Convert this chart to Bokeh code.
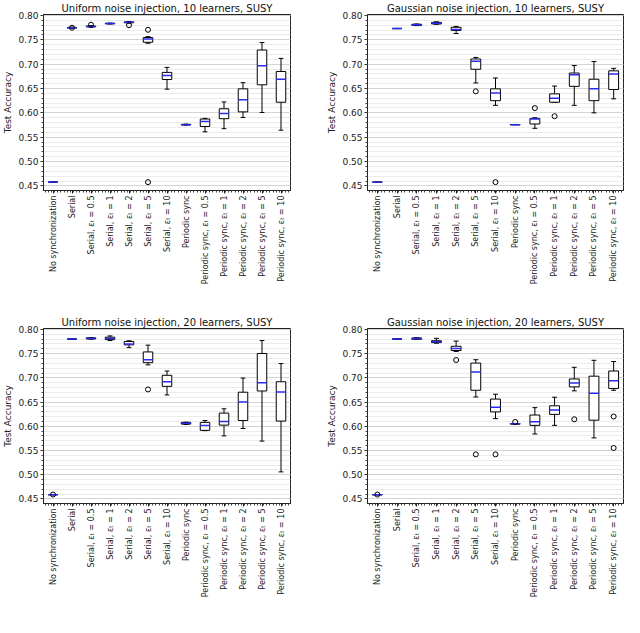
import math
import numpy as np
from bokeh.plotting import figure
from bokeh.models import (ColumnDataSource, FixedTicker, SingleIntervalTicker, Range1d,
                          PrintfTickFormatter)
from bokeh.layouts import column, row
from bokeh.embed import file_html
from bokeh.resources import INLINE

categories = [
    "No synchronization", "Serial", "Serial, εₜ = 0.5", "Serial, εₜ = 1",
    "Serial, εₜ = 2", "Serial, εₜ = 5", "Serial, εₜ = 10", "Periodic sync",
    "Periodic sync, εₜ = 0.5", "Periodic sync, εₜ = 1", "Periodic sync, εₜ = 2",
    "Periodic sync, εₜ = 5", "Periodic sync, εₜ = 10",
]
y_tick_step = 0.05

# ---- Uniform noise, 10 learners ----
u10_q1 = [0.458, 0.7745, 0.7768, 0.7829, 0.7850, 0.7450, 0.6684, 0.5752, 0.5720, 0.5880, 0.6020, 0.6576, 0.6218]
u10_med = [0.458, 0.7750, 0.7775, 0.7834, 0.7860, 0.7515, 0.6767, 0.5758, 0.5822, 0.5988, 0.6269, 0.6965, 0.6691]
u10_q3 = [0.458, 0.7755, 0.7782, 0.7839, 0.7868, 0.7547, 0.6831, 0.5764, 0.5873, 0.6084, 0.6493, 0.7290, 0.6850]
u10_lo = [0.458, 0.7740, 0.7760, 0.7825, 0.7845, 0.7430, 0.6486, 0.5748, 0.5611, 0.5675, 0.5905, 0.6007, 0.5643]
u10_hi = [0.458, 0.7760, 0.7790, 0.7843, 0.7875, 0.7566, 0.6933, 0.5768, 0.5886, 0.6224, 0.6620, 0.7444, 0.7119]
u10_out_idx = [1, 2, 4, 5, 5]
u10_out_val = [0.7748, 0.7810, 0.7800, 0.7706, 0.4577]

# ---- Gaussian noise, 10 learners ----
g10_q1 = [0.4577, 0.7730, 0.7797, 0.7826, 0.7693, 0.6895, 0.6250, 0.5755, 0.5771, 0.6218, 0.6544, 0.6250, 0.6480]
g10_med = [0.4577, 0.7732, 0.7808, 0.7840, 0.7713, 0.7061, 0.6410, 0.5758, 0.5873, 0.6301, 0.6780, 0.6493, 0.6800]
g10_q3 = [0.4577, 0.7734, 0.7820, 0.7858, 0.7757, 0.7106, 0.6493, 0.5761, 0.5886, 0.6390, 0.6818, 0.6691, 0.6863]
g10_lo = [0.4577, 0.7730, 0.7792, 0.7820, 0.7630, 0.6614, 0.6154, 0.5755, 0.5682, 0.6218, 0.6154, 0.6000, 0.6288]
g10_hi = [0.4577, 0.7734, 0.7825, 0.7870, 0.7776, 0.7138, 0.6716, 0.5761, 0.5899, 0.6550, 0.6972, 0.7055, 0.6914]
g10_out_idx = [5, 6, 8, 9]
g10_out_val = [0.6442, 0.4577, 0.6097, 0.5931]

# ---- Uniform noise, 20 learners ----
u20_q1 = [0.4586, 0.7802, 0.7805, 0.7790, 0.7682, 0.7314, 0.6825, 0.6045, 0.5916, 0.6024, 0.6119, 0.6729, 0.6107]
u20_med = [0.4588, 0.7803, 0.7816, 0.7816, 0.7701, 0.7377, 0.6920, 0.6062, 0.6018, 0.6100, 0.6500, 0.6901, 0.6710]
u20_q3 = [0.4590, 0.7804, 0.7828, 0.7841, 0.7752, 0.7536, 0.7053, 0.6080, 0.6081, 0.6272, 0.6704, 0.7504, 0.6920]
u20_lo = [0.4586, 0.7802, 0.7800, 0.7771, 0.7625, 0.7269, 0.6647, 0.6040, 0.5910, 0.5802, 0.5954, 0.5694, 0.5058]
u20_hi = [0.4590, 0.7804, 0.7832, 0.7867, 0.7765, 0.7676, 0.7142, 0.6085, 0.6119, 0.6361, 0.6996, 0.7771, 0.7295]
u20_out_idx = [0, 5]
u20_out_val = [0.4590, 0.6761]

# ---- Gaussian noise, 20 learners ----
g20_q1 = [0.4585, 0.7803, 0.7798, 0.7729, 0.7565, 0.6744, 0.6297, 0.6045, 0.6019, 0.6246, 0.6814, 0.6126, 0.6782]
g20_med = [0.4587, 0.7804, 0.7811, 0.7748, 0.7609, 0.7123, 0.6391, 0.6050, 0.6095, 0.6334, 0.6896, 0.6681, 0.6940]
g20_q3 = [0.4589, 0.7805, 0.7824, 0.7767, 0.7653, 0.7306, 0.6562, 0.6055, 0.6233, 0.6423, 0.6978, 0.7035, 0.7142]
g20_lo = [0.4585, 0.7803, 0.7795, 0.7716, 0.7546, 0.6606, 0.6158, 0.6045, 0.5842, 0.6019, 0.6732, 0.5760, 0.6744]
g20_hi = [0.4589, 0.7805, 0.7830, 0.7817, 0.7760, 0.7375, 0.6662, 0.6055, 0.6385, 0.6600, 0.7218, 0.7363, 0.7338]
g20_out_idx = [0, 4, 5, 6, 7, 10, 12, 12]
g20_out_val = [0.4590, 0.7369, 0.5420, 0.5420, 0.6090, 0.6145, 0.6202, 0.5552]

FONT = "DejaVu Sans"
BOX_W = 0.5
CAP_W = 0.25
Y0, Y1 = 0.4405, 0.802


def panel(title, q1, med, q3, lo, hi, out_idx, out_val, width, height, mb):
    pos = np.arange(1, len(categories) + 1, dtype=float)
    src = ColumnDataSource(dict(
        x=pos, q1=q1, med=med, q3=q3, lo=lo, hi=hi,
        bl=pos - BOX_W / 2, br=pos + BOX_W / 2,
        cl=pos - CAP_W / 2, cr=pos + CAP_W / 2,
    ))
    p = figure(width=width, height=height, output_backend="svg", toolbar_location=None,
               x_range=Range1d(0.5, len(categories) + 0.5), y_range=Range1d(Y0, Y1),
               min_border_left=mb[0], min_border_right=mb[1], min_border_top=mb[2],
               min_border_bottom=mb[3], title=title)
    p.title.text_font = FONT
    p.title.text_font_size = "10px"
    p.title.text_font_style = "normal"
    p.title.text_color = "#111111"
    p.title.align = "center"
    p.title.standoff = 1
    p.title.offset = 0
    p.outline_line_color = "#222222"
    p.outline_line_width = 1
    p.background_fill_color = "white"
    p.border_fill_color = None

    # grid
    p.xgrid.grid_line_color = None
    p.ygrid.grid_line_color = "#d4d4d4"
    p.ygrid.minor_grid_line_color = "#ebebeb"

    yt = SingleIntervalTicker(interval=y_tick_step, num_minor_ticks=5)
    p.yaxis.ticker = yt
    p.ygrid.ticker = yt
    p.yaxis.formatter = PrintfTickFormatter(format="%.2f")
    p.yaxis.axis_label = "Test Accuracy"
    p.yaxis.axis_label_text_font = FONT
    p.yaxis.axis_label_text_font_size = "9px"
    p.yaxis.axis_label_text_font_style = "normal"
    p.yaxis.axis_label_text_color = "#222222"
    p.yaxis.axis_label_standoff = 2
    p.yaxis.major_label_standoff = 2
    p.yaxis.major_label_text_font_size = "9px"

    minor = []
    for c in pos:
        minor += [c + d for d in (-0.375, -0.225, -0.075, 0.075, 0.225, 0.375)]
    p.xaxis.ticker = FixedTicker(ticks=list(pos), minor_ticks=minor)
    p.xaxis.major_label_overrides = {int(c): categories[i] for i, c in enumerate(pos)}
    p.xaxis.major_label_orientation = math.pi / 2
    p.xaxis.major_label_standoff = 2
    p.xaxis.major_label_text_font_size = "8px"

    for ax in (p.xaxis, p.yaxis):
        ax.major_label_text_font = FONT
        ax.major_label_text_color = "#222222"
        ax.axis_line_color = "#222222"
        ax.major_tick_line_color = "#222222"
        ax.minor_tick_line_color = "#444444"
        ax.major_tick_out = 3
        ax.major_tick_in = 0
        ax.minor_tick_out = 2
        ax.minor_tick_in = 0

    # whiskers
    p.segment(x0="x", y0="lo", x1="x", y1="q1", source=src, line_color="black", line_width=1)
    p.segment(x0="x", y0="q3", x1="x", y1="hi", source=src, line_color="black", line_width=1)
    # caps
    p.segment(x0="cl", y0="lo", x1="cr", y1="lo", source=src, line_color="black", line_width=1)
    p.segment(x0="cl", y0="hi", x1="cr", y1="hi", source=src, line_color="black", line_width=1)
    # boxes
    p.vbar(x="x", width=BOX_W, bottom="q1", top="q3", source=src,
           fill_color="white", line_color="black", line_width=1)
    # medians
    p.segment(x0="bl", y0="med", x1="br", y1="med", source=src, line_color="#2a2af0", line_width=1.5)
    # outliers
    osrc = ColumnDataSource(dict(x=[pos[i] for i in out_idx], y=out_val))
    p.scatter(x="x", y="y", source=osrc, marker="circle", size=5,
              fill_color=None, line_color="black", line_width=1)
    return p


TOP_H, BOT_H = 304, 340
p1 = panel("Uniform noise injection, 10 learners, SUSY", u10_q1, u10_med, u10_q3, u10_lo, u10_hi,
           u10_out_idx, u10_out_val, 312, TOP_H, (30, 22, 10, 114))
p2 = panel("Gaussian noise injection, 10 learners, SUSY", g10_q1, g10_med, g10_q3, g10_lo, g10_hi,
           g10_out_idx, g10_out_val, 312, TOP_H, (55, 1, 10, 114))
p3 = panel("Uniform noise injection, 20 learners, SUSY", u20_q1, u20_med, u20_q3, u20_lo, u20_hi,
           u20_out_idx, u20_out_val, 312, BOT_H, (30, 22, 51, 114))
p4 = panel("Gaussian noise injection, 20 learners, SUSY", g20_q1, g20_med, g20_q3, g20_lo, g20_hi,
           g20_out_idx, g20_out_val, 312, BOT_H, (55, 1, 51, 114))

top_row = row(p1, p2)
bottom_row = row(p3, p4, margin=(-27, 0, 0, 0))
layout = column(top_row, bottom_row)
open("out.html", "w").write(file_html(layout, INLINE))
